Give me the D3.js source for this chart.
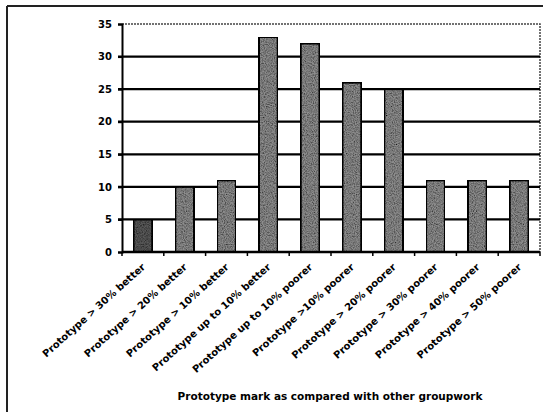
<!DOCTYPE html>
<html>
<head>
<meta charset="utf-8">
<script src="https://cdn.jsdelivr.net/npm/d3@7"></script>
<style>
  body { margin: 0; background: #fff; }
  text { font-family: "DejaVu Sans", "Liberation Sans", Arial, sans-serif; font-weight: bold; }
</style>
</head>
<body>
<svg id="chart"></svg>
<script>
// categories and counts
let categories = [
  "Prototype > 30% better",
  "Prototype > 20% better",
  "Prototype > 10% better",
  "Prototype up to 10% better",
  "Prototype up to 10% poorer",
  "Prototype >10% poorer",
  "Prototype > 20% poorer",
  "Prototype > 30% poorer",
  "Prototype > 40% poorer",
  "Prototype > 50% poorer"
];
let counts = [5, 10, 11, 33, 32, 26, 25, 11, 11, 11];
let yTicks = [0, 5, 10, 15, 20, 25, 30, 35];
let xTitle = "Prototype mark as compared with other groupwork";

function createBarChart() {
  let w = 543, h = 412;
  let svg = d3.select("#chart")
              .attr('width', w)
              .attr('height', h);

  let margin = {left: 122, top: 24, right: 3, bottom: 160};

  // grainy photocopy look for the bars
  let defs = svg.append("defs");
  let f = defs.append("filter").attr("id", "grain")
      .attr("x", 0).attr("y", 0).attr("width", 1).attr("height", 1);
  f.append("feTurbulence").attr("type", "fractalNoise")
      .attr("baseFrequency", 0.9).attr("numOctaves", 2).attr("seed", 3)
      .attr("result", "noise");
  f.append("feColorMatrix").attr("in", "noise").attr("type", "matrix")
      .attr("values", "0 0 0 0 0  0 0 0 0 0  0 0 0 0 0  0 0 0 -1.6 1.1")
      .attr("result", "dots");
  f.append("feComposite").attr("in", "dots").attr("in2", "SourceGraphic")
      .attr("operator", "in").attr("result", "dotsIn");
  f.append("feMerge").selectAll("feMergeNode")
      .data(["SourceGraphic", "dotsIn"]).enter()
      .append("feMergeNode").attr("in", d => d);

  // outer frame (top and left edges only)
  svg.append("line").attr("x1", 7).attr("x2", w).attr("y1", 6).attr("y2", 6)
      .attr("stroke", "#222").attr("stroke-width", 2);
  svg.append("line").attr("x1", 7).attr("x2", 7).attr("y1", 6).attr("y2", h)
      .attr("stroke", "#222").attr("stroke-width", 2);

  let x = d3.scaleBand()
      .domain(categories)
      .range([margin.left, w - margin.right])
      .paddingInner(0.55).paddingOuter(0.275);

  let y = d3.scaleLinear()
      .domain([0, 35])
      .range([h - margin.bottom, margin.top]);

  // plot area border (dotted grey on top and right)
  svg.append("path")
      .attr("d", `M${margin.left},${margin.top}H${w - margin.right}V${y(0)}`)
      .attr("fill", "none").attr("stroke", "#444").attr("stroke-width", 1.5)
      .attr("stroke-dasharray", "2,1");

  // gridlines
  svg.append("g")
      .selectAll("line")
      .data(yTicks.filter(d => d > 0 && d < 35))
      .enter()
      .append("line")
      .attr("x1", margin.left - 4)
      .attr("x2", w - margin.right)
      .attr("y1", d => y(d))
      .attr("y2", d => y(d))
      .attr("stroke", "#000")
      .attr("stroke-width", 2.2);

  // bars
  svg.append("g")
      .selectAll("rect")
      .data(counts)
      .enter()
      .append("rect")
      .attr("x", (d, i) => x(categories[i]))
      .attr("y", d => y(d))
      .attr("width", x.bandwidth())
      .attr("height", d => y(0) - y(d))
      .attr("fill", (d, i) => i == 0 ? "#5a5a5a" : "#8e8e8e")
      .attr("stroke", "#000")
      .attr("stroke-width", 2)
      .attr("filter", "url(#grain)");

  // y axis
  let yAxis = d3.axisLeft(y).tickValues(yTicks).tickSize(4).tickPadding(6);
  let gy = svg.append("g")
      .attr("transform", `translate(${margin.left},0)`)
      .call(yAxis);
  gy.select(".domain").attr("stroke", "#000").attr("stroke-width", 2);
  gy.selectAll(".tick line").attr("stroke", "#000").attr("stroke-width", 2);
  gy.selectAll("text").attr("font-size", 10).attr("fill", "#000")
      .style("font-family", "'DejaVu Sans', sans-serif").style("font-weight", "bold");

  // x axis: ticks fall between categories
  let step = x.step();
  svg.append("line")
      .attr("x1", margin.left).attr("x2", w - margin.right)
      .attr("y1", y(0)).attr("y2", y(0))
      .attr("stroke", "#000").attr("stroke-width", 2.5);
  svg.append("g")
      .selectAll("line")
      .data(d3.range(categories.length + 1))
      .enter()
      .append("line")
      .attr("x1", i => margin.left + i * step)
      .attr("x2", i => margin.left + i * step)
      .attr("y1", y(0))
      .attr("y2", y(0) + 4)
      .attr("stroke", "#000").attr("stroke-width", 1.5);

  svg.append("g")
      .selectAll("text")
      .data(categories)
      .enter()
      .append("text")
      .attr("transform", d => `translate(${x(d) + x.bandwidth() / 2 + 3},${y(0) + 16}) rotate(-42)`)
      .attr("text-anchor", "end")
      .attr("font-size", 10)
      .attr("fill", "#000")
      .text(d => d);

  svg.append("text")
      .attr("x", 330)
      .attr("y", 400)
      .attr("text-anchor", "middle")
      .attr("font-size", 10.5)
      .attr("fill", "#000")
      .text(xTitle);
}

createBarChart();
</script>
</body>
</html>
